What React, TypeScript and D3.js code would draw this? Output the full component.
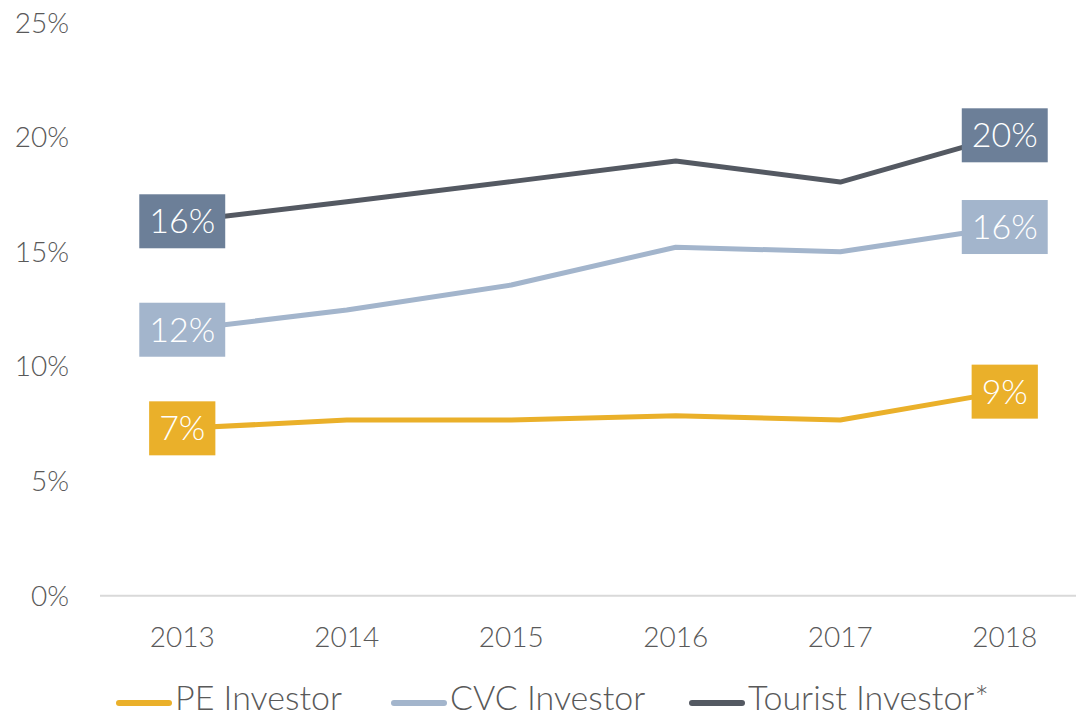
import React, { useEffect, useRef } from "react";
import * as d3 from "d3";

const years = ["2013", "2014", "2015", "2016", "2017", "2018"];
const peInvestor = [7.3, 7.66, 7.66, 7.85, 7.66, 8.9];
const cvcInvestor = [11.6, 12.46, 13.55, 15.2, 15.0, 16.08];
const touristInvestor = [16.33, 17.18, 18.06, 18.96, 18.04, 20.08];
const yTicks = [0, 5, 10, 15, 20, 25];
const seriesNames = ["PE Investor", "CVC Investor", "Tourist Investor*"];

const W = 1076;
const H = 718;
const FONT = "Lato, 'Open Sans', 'DejaVu Sans', sans-serif";

export default function App() {
  const ref = useRef<SVGSVGElement | null>(null);

  useEffect(() => {
    const svg = d3.select(ref.current);
    svg.selectAll("*").remove();

    const x = d3.scalePoint<string>().domain(years).range([100, 1087]).padding(0.5);
    const y = d3.scaleLinear().domain([0, 25]).range([595.7, 22.5]);

    const series = [
      { name: seriesNames[0], values: peInvestor, color: "#EAB02A", box: "#EAB02A" },
      { name: seriesNames[1], values: cvcInvestor, color: "#A3B5CC", box: "#A3B5CC" },
      { name: seriesNames[2], values: touristInvestor, color: "#545962", box: "#6C7F98" },
    ];

    // y labels
    svg.append("g")
      .selectAll("text")
      .data(yTicks)
      .join("text")
      .attr("x", 69)
      .attr("y", (d) => y(d) + 10)
      .attr("text-anchor", "end")
      .attr("font-family", FONT)
      .attr("font-weight", 300)
      .attr("font-size", 28)
      .attr("fill", "#595959")
      .text((d) => d + "%");

    // axis line
    svg.append("line")
      .attr("x1", 100)
      .attr("x2", 1087)
      .attr("y1", y(0))
      .attr("y2", y(0))
      .attr("stroke", "#D9D9D9")
      .attr("stroke-width", 2);

    // x labels
    svg.append("g")
      .selectAll("text")
      .data(years)
      .join("text")
      .attr("x", (d) => x(d)!)
      .attr("y", 647)
      .attr("text-anchor", "middle")
      .attr("font-family", FONT)
      .attr("font-weight", 300)
      .attr("font-size", 28)
      .attr("fill", "#595959")
      .text((d) => d);

    const line = d3
      .line<number>()
      .x((_, i) => x(years[i])!)
      .y((d) => y(d));

    series.forEach((s) => {
      svg.append("path")
        .attr("d", line(s.values)!)
        .attr("fill", "none")
        .attr("stroke", s.color)
        .attr("stroke-width", 5)
        .attr("stroke-linejoin", "round");
    });

    // data labels at ends
    series.forEach((s) => {
      [0, years.length - 1].forEach((i) => {
        const cx = x(years[i])!;
        const cy = y(s.values[i]);
        const g = svg.append("g");
        const rect = g.append("rect").attr("fill", s.box);
        const t = g.append("text")
          .attr("x", cx)
          .attr("y", cy + 12)
          .attr("text-anchor", "middle")
          .attr("font-family", FONT)
          .attr("font-weight", 300)
          .attr("font-size", 34)
          .attr("fill", "#FFFFFF")
          .text(Math.round(s.values[i]) + "%");
        const tw = (t.node() as SVGTextElement).getComputedTextLength();
        const bw = tw + 20;
        rect
          .attr("x", cx - bw / 2)
          .attr("y", cy - 27)
          .attr("width", bw)
          .attr("height", 54);
      });
    });

    // legend
    const legendX = [116, 391, 689];
    series.forEach((s, i) => {
      const lg = svg.append("g");
      lg.append("line")
        .attr("x1", legendX[i] + 3)
        .attr("x2", legendX[i] + 53)
        .attr("y1", 703)
        .attr("y2", 703)
        .attr("stroke", s.color)
        .attr("stroke-width", 6)
        .attr("stroke-linecap", "round");
      lg.append("text")
        .attr("x", legendX[i] + 59)
        .attr("y", 710)
        .attr("font-family", FONT)
        .attr("font-weight", 300)
        .attr("font-size", 34)
        .attr("fill", "#595959")
        .text(s.name);
    });
  }, []);

  return (
    <svg
      ref={ref}
      width={W}
      height={H}
      style={{ position: "absolute", left: 0, top: 0, background: "#fff" }}
    />
  );
}
